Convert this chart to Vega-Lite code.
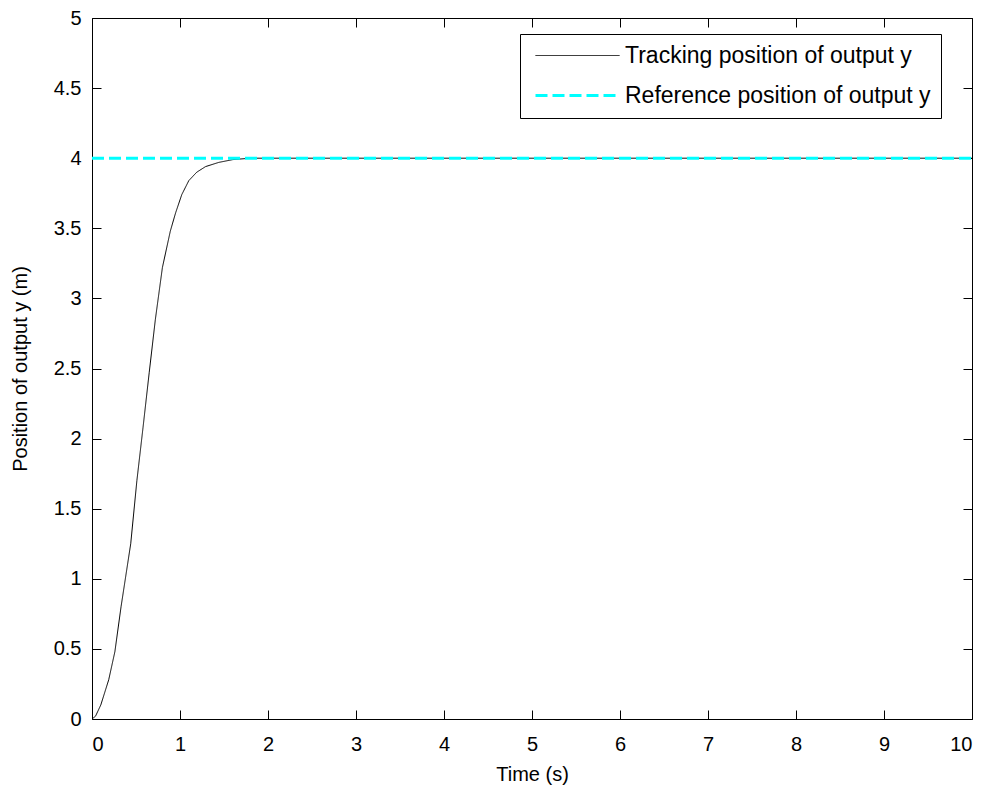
{
  "$schema": "https://vega.github.io/schema/vega-lite/v6.json",
  "width": 880,
  "height": 701,
  "padding": {"left": 10, "top": 8, "right": 5, "bottom": 5},
  "background": "white",
  "config": {
    "font": "Liberation Sans",
    "view": {"stroke": "black", "strokeWidth": 1},
    "axis": {
      "domain": false,
      "grid": false,
      "ticks": true,
      "tickSize": -9,
      "tickColor": "black",
      "tickWidth": 1,
      "labelFont": "Liberation Sans",
      "labelFontSize": 20,
      "labelColor": "black",
      "titleFont": "Liberation Sans",
      "titleFontSize": 20,
      "titleFontWeight": "normal",
      "titleColor": "black"
    },
    "legend": {
      "labelFont": "Liberation Sans",
      "labelFontSize": 23,
      "labelColor": "black",
      "labelLimit": 0
    }
  },
  "datasets": {
    "tracking": [
      {"t": 0, "y": 0, "series": "Tracking position of output y"},
      {"t": 0.04, "y": 0.02, "series": "Tracking position of output y"},
      {"t": 0.1, "y": 0.1, "series": "Tracking position of output y"},
      {"t": 0.19, "y": 0.28, "series": "Tracking position of output y"},
      {"t": 0.26, "y": 0.48, "series": "Tracking position of output y"},
      {"t": 0.33, "y": 0.8, "series": "Tracking position of output y"},
      {"t": 0.44, "y": 1.25, "series": "Tracking position of output y"},
      {"t": 0.51, "y": 1.7, "series": "Tracking position of output y"},
      {"t": 0.58, "y": 2.08, "series": "Tracking position of output y"},
      {"t": 0.65, "y": 2.47, "series": "Tracking position of output y"},
      {"t": 0.72, "y": 2.85, "series": "Tracking position of output y"},
      {"t": 0.8, "y": 3.22, "series": "Tracking position of output y"},
      {"t": 0.89, "y": 3.48, "series": "Tracking position of output y"},
      {"t": 0.95, "y": 3.61, "series": "Tracking position of output y"},
      {"t": 1.02, "y": 3.74, "series": "Tracking position of output y"},
      {"t": 1.1, "y": 3.84, "series": "Tracking position of output y"},
      {"t": 1.19, "y": 3.9, "series": "Tracking position of output y"},
      {"t": 1.29, "y": 3.94, "series": "Tracking position of output y"},
      {"t": 1.44, "y": 3.97, "series": "Tracking position of output y"},
      {"t": 1.6, "y": 3.99, "series": "Tracking position of output y"},
      {"t": 1.8, "y": 4.0, "series": "Tracking position of output y"},
      {"t": 10, "y": 4.0, "series": "Tracking position of output y"}
    ],
    "reference": [
      {"t": 0, "y": 4, "series": "Reference position of output y"},
      {"t": 10, "y": 4, "series": "Reference position of output y"}
    ]
  },
  "encoding": {
    "color": {
      "field": "series", "type": "nominal",
      "scale": {"domain": ["Tracking position of output y", "Reference position of output y"], "range": ["black", "#00ffff"]},
      "legend": {
        "title": null,
        "orient": "none",
        "legendX": 428,
        "legendY": 16,
        "symbolType": "M-4.2,0H4.2",
        "symbolSize": 400,
        "symbolOffset": 36,
        "labelOffset": 36,
        "strokeColor": "black",
        "fillColor": "white",
        "padding": 10,
        "rowPadding": 16
      }
    },
    "strokeDash": {
      "field": "series", "type": "nominal",
      "scale": {"domain": ["Tracking position of output y", "Reference position of output y"], "range": [[1, 0], [12, 5]]},
      "legend": null
    },
    "strokeWidth": {
      "field": "series", "type": "nominal",
      "scale": {"domain": ["Tracking position of output y", "Reference position of output y"], "range": [1, 3]},
      "legend": null
    }
  },
  "layer": [
    {
      "data": {"name": "tracking"},
      "mark": {"type": "line", "interpolate": "linear"},
      "encoding": {
        "x": {"field": "t", "type": "quantitative", "scale": {"domain": [0, 10], "nice": false, "zero": false},
          "axis": {"orient": "bottom", "title": "Time (s)", "values": [0,1,2,3,4,5,6,7,8,9,10], "labelPadding": 24, "titlePadding": 10}},
        "y": {"field": "y", "type": "quantitative", "scale": {"domain": [0, 5], "nice": false},
          "axis": {"orient": "left", "title": "Position of output y (m)", "values": [0,0.5,1,1.5,2,2.5,3,3.5,4,4.5,5], "format": "~g", "labelPadding": 20, "titlePadding": 23}}
      }
    },
    {
      "data": {"name": "reference"},
      "mark": {"type": "line"},
      "encoding": {
        "x": {"field": "t", "type": "quantitative", "scale": {"domain": [0, 10], "nice": false, "zero": false},
          "axis": {"orient": "top", "title": null, "labels": false, "values": [0,1,2,3,4,5,6,7,8,9,10]}},
        "y": {"field": "y", "type": "quantitative", "scale": {"domain": [0, 5], "nice": false},
          "axis": {"orient": "right", "title": null, "labels": false, "values": [0,0.5,1,1.5,2,2.5,3,3.5,4,4.5,5]}}
      }
    }
  ],
  "resolve": {"axis": {"x": "independent", "y": "independent"}}
}
